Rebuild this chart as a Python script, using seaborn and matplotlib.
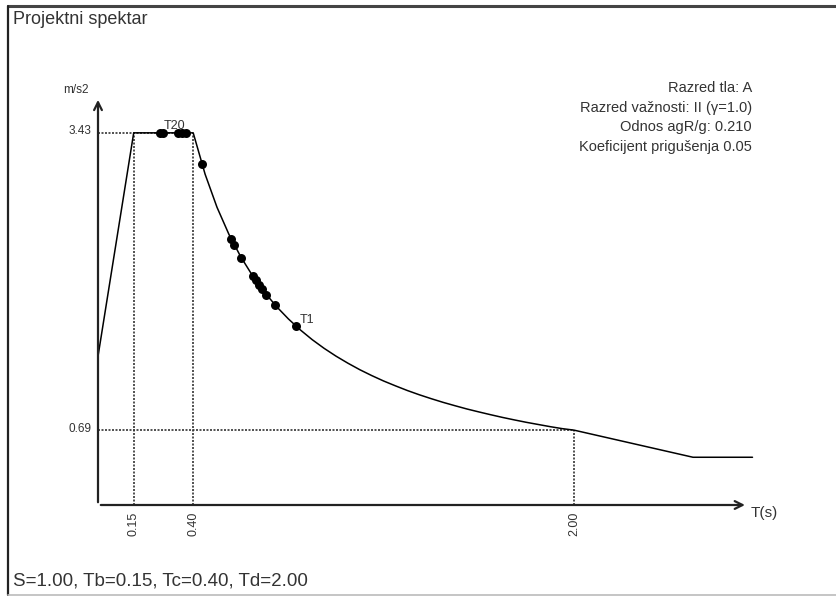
import numpy as np
import pandas as pd
import seaborn as sns
import matplotlib.pyplot as plt
from matplotlib.lines import Line2D

sns.set_theme(style='white')
plt.rcParams['font.family'] = ['Liberation Sans', 'DejaVu Sans']

# ------------------------------
# Data
# ------------------------------
period = [0.0, 0.15, 0.40, 0.45, 0.50, 0.55, 0.60, 0.65, 0.70, 0.75, 0.80, 0.85,
          0.90, 0.95, 1.00, 1.05, 1.10, 1.15, 1.20, 1.25, 1.30, 1.35, 1.40, 1.45,
          1.50, 1.55, 1.60, 1.65, 1.70, 1.75, 1.80, 1.85, 1.90, 1.95, 2.00, 2.50, 2.75]
sd = [1.37, 3.43, 3.43, 3.049, 2.744, 2.495, 2.287, 2.111, 1.960, 1.829, 1.715, 1.614,
      1.524, 1.444, 1.372, 1.307, 1.247, 1.193, 1.143, 1.098, 1.055, 1.016, 0.980, 0.946,
      0.915, 0.885, 0.858, 0.832, 0.807, 0.784, 0.762, 0.742, 0.722, 0.704, 0.69, 0.44, 0.44]

mode_period = [0.26, 0.273, 0.335, 0.355, 0.37, 0.437, 0.559, 0.571, 0.601,
               0.651, 0.664, 0.676, 0.689, 0.706, 0.744, 0.832]
mode_sd = [3.43, 3.43, 3.43, 3.43, 3.43, 3.14, 2.45, 2.40, 2.28,
           2.11, 2.07, 2.03, 1.99, 1.94, 1.84, 1.65]

Tb, Tc, Td = 0.15, 0.40, 2.00
sd_max, sd_td = 3.43, 0.69
x_ticks = [Tb, Tc, Td]
x_tick_labels = ['0.15', '0.40', '2.00']
y_ticks = [sd_max, sd_td]
y_tick_labels = ['3.43', '0.69']

info_lines = ['Razred tla: A', 'Razred važnosti: II (γ=1.0)',
              'Odnos agR/g: 0.210', 'Koeficijent prigušenja 0.05']

spec = pd.DataFrame({'T': period, 'Sd': sd})
modes = pd.DataFrame({'T': mode_period, 'Sd': mode_sd})

# ------------------------------
# Figure
# ------------------------------
W, H = 837, 596
fig = plt.figure(figsize=(W / 100, H / 100), dpi=100)
ax = fig.add_axes([0, 0, 1, 1])
x0, sx = 98, 238.0     # pixel of T=0 and px per second
y0, sy = 505, 108.5    # pixel of Sd=0 and px per m/s2
ax.set_xlim(-x0 / sx, (W - x0) / sx)
ax.set_ylim(-(H - y0) / sy, y0 / sy)

txt = '#333333'

# frame
fig.add_artist(Line2D([8 / W, 1], [1 - 6 / H] * 2, color='#444444', lw=2.2))
fig.add_artist(Line2D([8 / W] * 2, [1 - 6 / H, 1 - 595 / H], color='#222222', lw=1.6))
fig.add_artist(Line2D([8 / W, 1], [1 - 595 / H] * 2, color='#bbbbbb', lw=1.2))

# dotted guides
dot = dict(color='#333333', lw=1.2, ls=(0, (1.2, 0.9)))
ax.plot([0, Tc], [sd_max, sd_max], **dot)
ax.plot([Tb, Tb], [0, sd_max], **dot)
ax.plot([Tc, Tc], [0, sd_max], **dot)
ax.plot([0, Td], [sd_td, sd_td], **dot)
ax.plot([Td, Td], [0, sd_td], **dot)

# axes with arrows
ax.annotate('', xy=(2.73, 0), xytext=(0, 0),
            arrowprops=dict(arrowstyle='->', color='#222222', lw=1.6, mutation_scale=14))
ax.annotate('', xy=(0, 3.76), xytext=(0, 0),
            arrowprops=dict(arrowstyle='->', color='#222222', lw=1.6, mutation_scale=14))

# spectrum and periods
sns.lineplot(data=spec, x='T', y='Sd', ax=ax, color='black', lw=1.1, sort=False)
sns.scatterplot(data=modes, x='T', y='Sd', ax=ax, color='black', s=42,
                edgecolor='black', linewidth=0, zorder=5)
ax.axis('off')

# labels
for t, lab in zip(x_ticks, x_tick_labels):
    ax.annotate(lab, xy=(t, 0), xytext=(0, -5), textcoords='offset points',
                rotation=90, ha='center', va='top', fontsize=9, color=txt)
for v, lab in zip(y_ticks, y_tick_labels):
    ax.annotate(lab, xy=(0, v), xytext=(-5, 1), textcoords='offset points',
                ha='right', va='center', fontsize=8.5, color=txt)

ax.annotate('m/s2', xy=(0, 3.76), xytext=(-7, 1), textcoords='offset points',
            ha='right', va='bottom', fontsize=8.5, color=txt)
ax.annotate('T(s)', xy=(2.73, 0), xytext=(2, -1), textcoords='offset points',
            ha='left', va='top', fontsize=11, color=txt)
ax.annotate('T20', xy=(0.335, sd_max), xytext=(-2, 0.5), textcoords='offset points',
            ha='center', va='bottom', fontsize=9, color=txt)
ax.annotate('T1', xy=(mode_period[-1], mode_sd[-1]), xytext=(3, 0),
            textcoords='offset points', ha='left', va='bottom', fontsize=9, color=txt)

for i, line in enumerate(info_lines):
    fig.text(752 / W, 1 - (88 + 19.7 * i) / H, line, ha='right', va='center',
             fontsize=10.5, color=txt)

fig.text(13 / W, 1 - 19 / H, 'Projektni spektar', ha='left', va='center',
         fontsize=13, color=txt)
fig.text(13 / W, 1 - 581 / H, 'S=1.00, Tb=0.15, Tc=0.40, Td=2.00', ha='left',
         va='center', fontsize=13.5, color=txt)

fig.savefig('out.png', dpi=100)
